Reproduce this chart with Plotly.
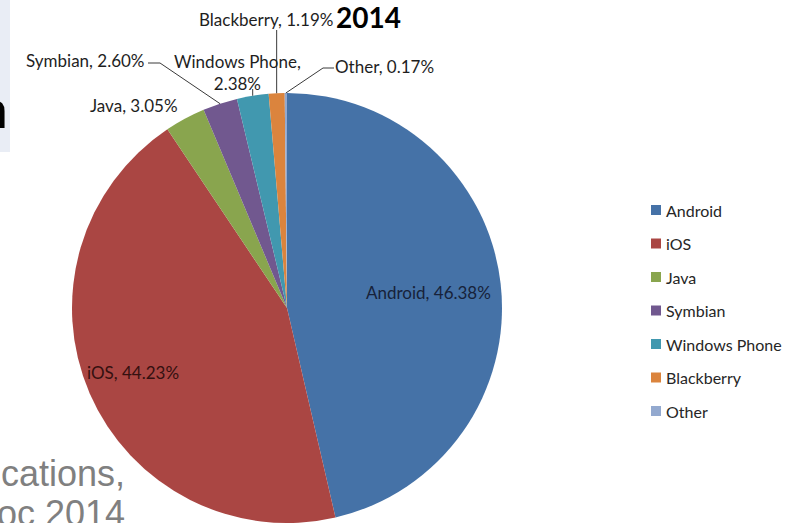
import math
import plotly.graph_objects as go

# ---- data ----
labels = ["Android", "iOS", "Java", "Symbian", "Windows Phone", "Blackberry", "Other"]
shares = [46.38, 44.23, 3.05, 2.60, 2.38, 1.19, 0.17]
colors = ["#4572A7", "#AA4643", "#89A54E", "#71588F", "#4198AF", "#DB843D", "#93A9CF"]
title_text = "2014"
slide_fragment_top = "n"
slide_fragment_bottom = ["cations,", "oc 2014"]

# ---- layout geometry (pixels) ----
W, H = 787, 523
CX, CY, R = 287, 308, 215
LABEL_FONT = "Lato, Calibri, sans-serif"


def px(x):
    return x / W


def py(y):
    return 1 - y / H


def edge(i, r=R):
    total = sum(shares)
    mid = sum(shares[:i]) + shares[i] / 2
    th = 2 * math.pi * mid / total
    return CX + r * math.sin(th), CY - r * math.cos(th)


fig = go.Figure(go.Pie(
    labels=labels,
    values=shares,
    sort=False,
    direction="clockwise",
    rotation=0,
    marker=dict(colors=colors, line=dict(width=0)),
    textinfo="none",
    hoverinfo="label+percent",
    showlegend=False,
    domain=dict(x=[px(CX - R), px(CX + R)], y=[py(CY + R), py(CY - R)]),
))

annotations = []
shapes = []

# data label positions (text centre, px) and leader waypoints
label_pos = {
    "Android": (428, 292),
    "iOS": (133, 372),
    "Java": (134, 106),
    "Symbian": (85, 61),
    "Windows Phone": (237, 72),
    "Blackberry": (266, 20),
    "Other": (384, 66),
}
label_color = {"Android": "#17223a", "iOS": "#341010"}
leaders = {
    "Symbian": [(148, 63), (160, 63)],
    "Windows Phone": [(None, 89)],
    "Blackberry": [(None, 30)],
    "Other": [(334, 68), (323, 68)],
}

for i, (lab, val) in enumerate(zip(labels, shares)):
    sep = ",<br>" if lab == "Windows Phone" else ", "
    txt = f"{lab}{sep}{val:.2f}%"
    x, y = label_pos[lab]
    annotations.append(dict(
        x=px(x), y=py(y), xref="paper", yref="paper", text=txt, showarrow=False,
        xanchor="center", yanchor="middle", align="center",
        font=dict(family=LABEL_FONT, size=17, color=label_color.get(lab, "#1e1e1e")),
    ))
    if lab in leaders:
        ex, ey = edge(i)
        pts = [((ex if a is None else a), b) for a, b in leaders[lab]] + [(ex, ey)]
        path = "M " + " L ".join(f"{px(a)},{py(b)}" for a, b in pts)
        shapes.append(dict(type="path", xref="paper", yref="paper", path=path,
                           line=dict(color="#3a3a3a", width=1)))

# title
annotations.append(dict(
    x=px(368), y=py(17), xref="paper", yref="paper", text=f"<b>{title_text}</b>",
    showarrow=False, xanchor="center", yanchor="middle",
    font=dict(family=LABEL_FONT, size=28, color="#000000"),
))

# custom legend
for i, (lab, col) in enumerate(zip(labels, colors)):
    yc = 210 + 33.5 * i
    shapes.append(dict(type="rect", xref="paper", yref="paper",
                       x0=px(651), x1=px(661), y0=py(yc + 5), y1=py(yc - 5),
                       fillcolor=col, line=dict(width=0)))
    annotations.append(dict(
        x=px(664), y=py(yc), xref="paper", yref="paper", text=lab, showarrow=False,
        xanchor="left", yanchor="middle",
        font=dict(family=LABEL_FONT, size=16, color="#262626"),
    ))

# slide fragments behind the chart
shapes.insert(0, dict(type="rect", xref="paper", yref="paper", layer="below",
                      x0=0, x1=px(10), y0=py(152), y1=1,
                      fillcolor="#e9edf5", line=dict(width=0)))
annotations.append(dict(
    x=px(10), y=py(110), xref="paper", yref="paper", text=f"<b>{slide_fragment_top}</b>",
    showarrow=False, xanchor="right", yanchor="middle",
    font=dict(family="Liberation Sans, Arial, sans-serif", size=52, color="#000000"),
))
for k, t in enumerate(slide_fragment_bottom):
    annotations.append(dict(
        x=px(127), y=py(473 + 40 * k), xref="paper", yref="paper", text=t,
        showarrow=False, xanchor="right", yanchor="middle",
        font=dict(family="Liberation Sans, Arial, sans-serif", size=36, color="#808080"),
    ))

fig.update_layout(
    width=W, height=H,
    margin=dict(l=0, r=0, t=0, b=0),
    paper_bgcolor="white", plot_bgcolor="white",
    annotations=annotations, shapes=shapes,
    showlegend=False,
)

fig.write_html("out.html")
